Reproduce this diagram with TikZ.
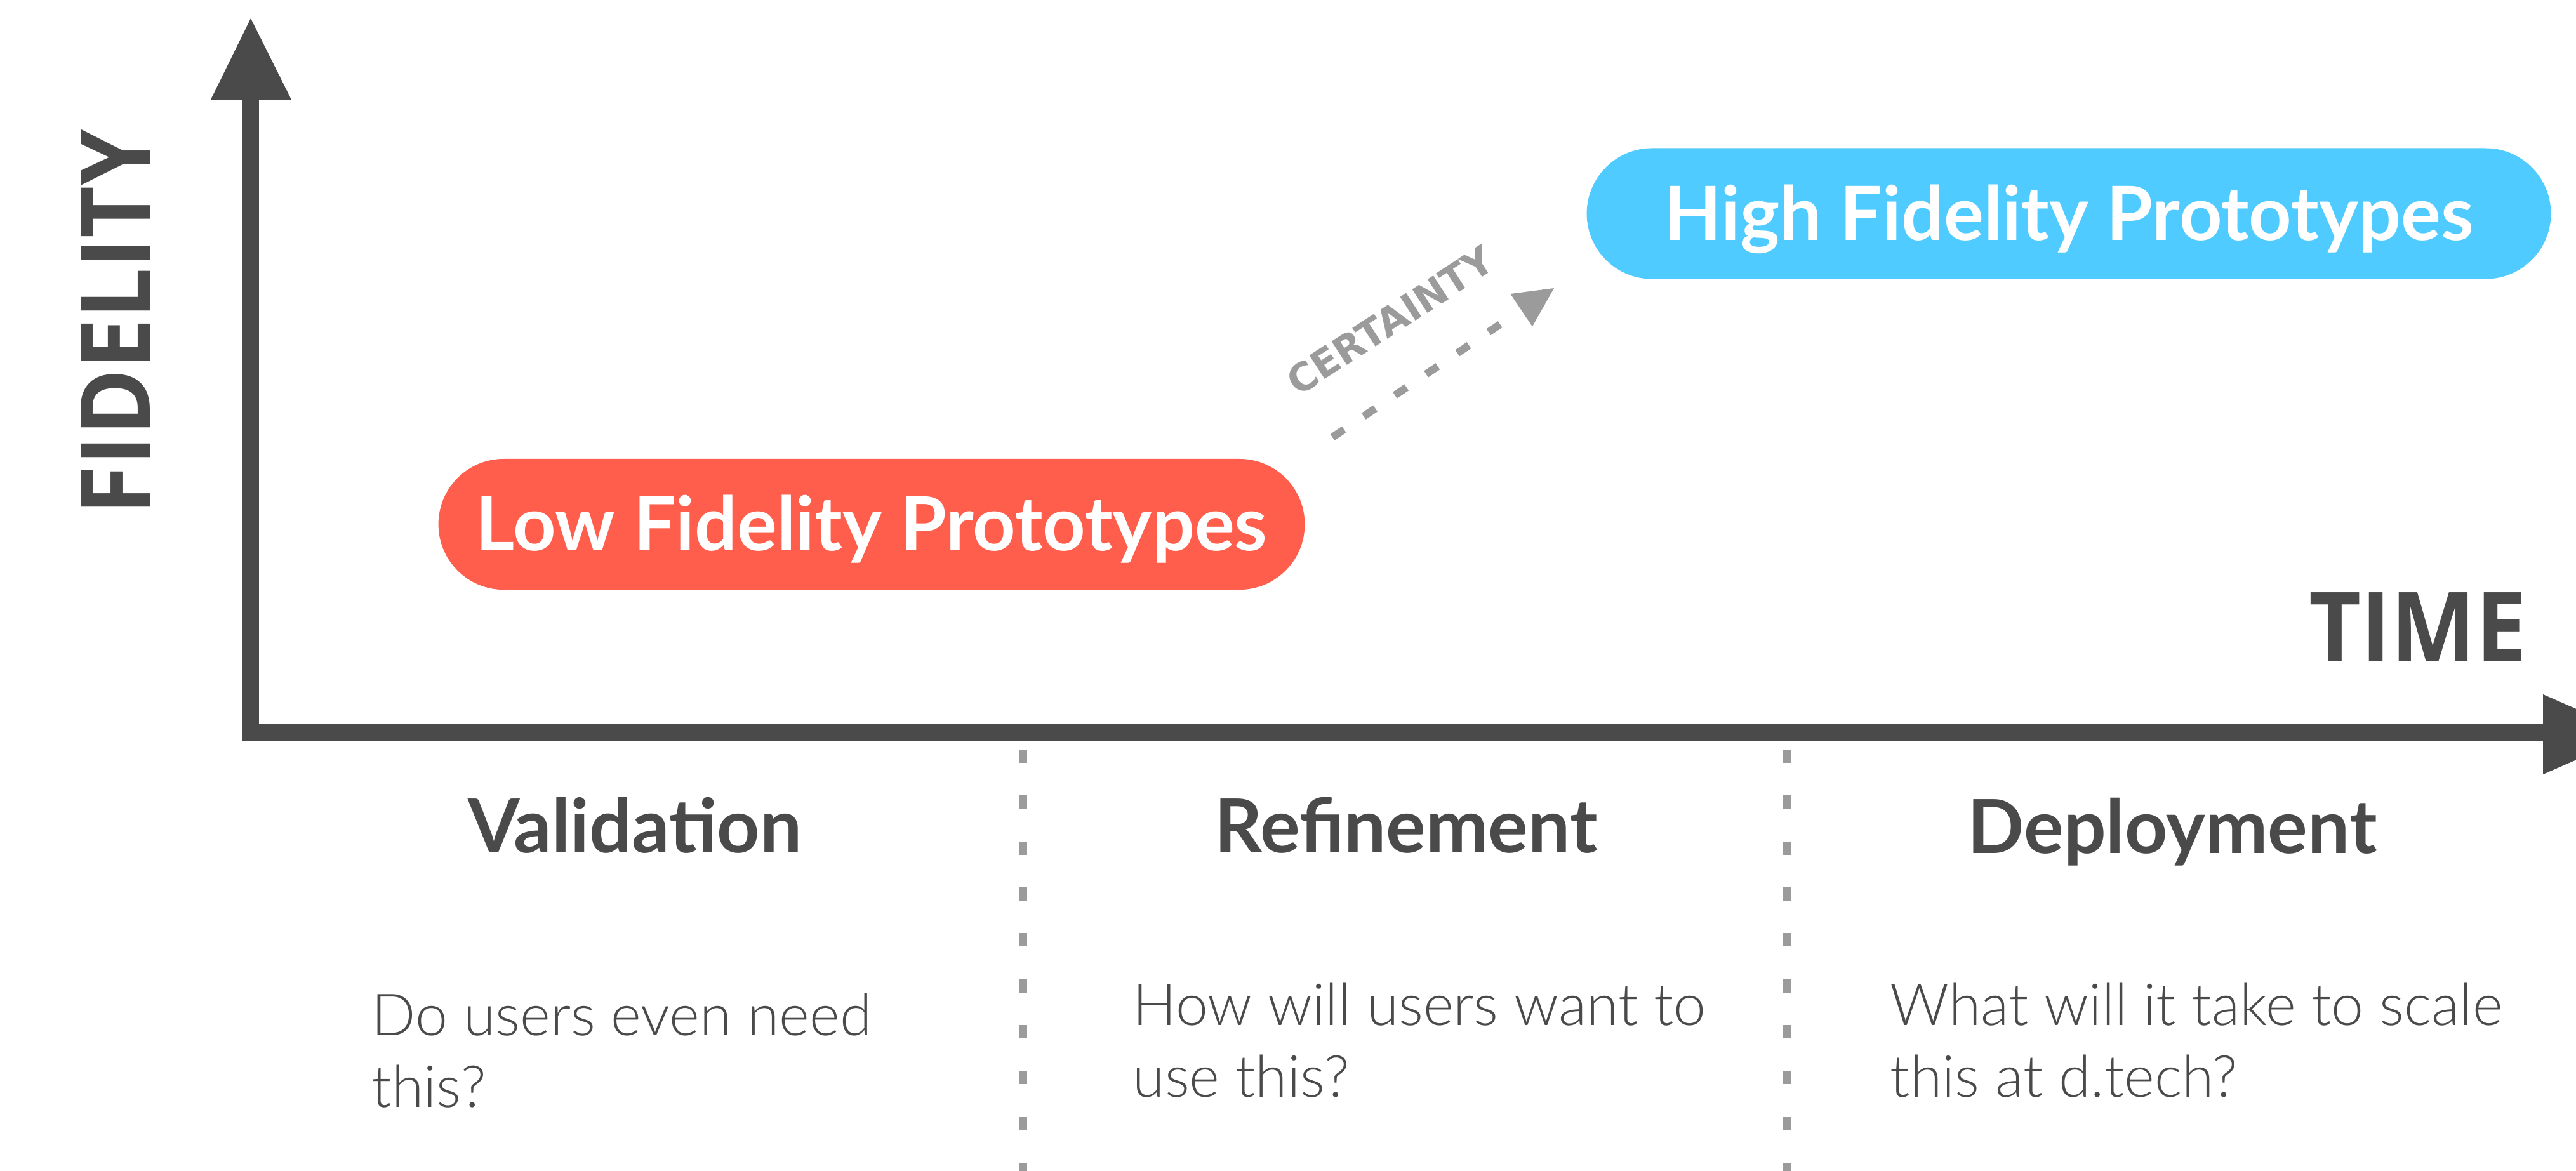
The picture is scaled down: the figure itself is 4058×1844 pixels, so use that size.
\documentclass[tikz,border=0pt]{standalone}
\usepackage{fontspec}
\setmainfont{Lato}
\newfontfamily\lightfont{Lato Light}
\newfontfamily\axisfont{Open Sans}[FakeStretch=0.93]
\newfontfamily\certfont{DejaVu Sans}
\definecolor{dark}{HTML}{4A4A4A}
\definecolor{midgray}{HTML}{9B9B9B}
\definecolor{pillred}{HTML}{FF5E4D}
\definecolor{pillblue}{HTML}{50CBFF}
\begin{document}
\begin{tikzpicture}[x=0.01cm, y=-0.01cm,
  pill/.style={rectangle, rounded corners=1.03cm, minimum height=2.06cm, inner sep=0pt,
    text height=0.83cm, text depth=0pt, text=white,
    font=\bfseries\fontsize{33.5pt}{40pt}\selectfont},
  heading/.style={anchor=base, inner sep=0pt, text=dark,
    font=\bfseries\fontsize{33.4pt}{40pt}\selectfont},
  body/.style={anchor=base west, inner sep=0pt, align=left, text=dark,
    font=\lightfont\fontsize{26pt}{31.87pt}\selectfont},
  axislabel/.style={inner sep=0pt, text=dark,
    font=\axisfont\bfseries\fontsize{43.4pt}{50pt}\selectfont},
  divider/.style={draw=midgray, line width=0.13cm, dash pattern=on 0.21cm off 0.513cm},
  axisline/.style={draw=dark, line width=0.26cm, line join=miter},
  certline/.style={draw=midgray, line width=0.12cm, dash pattern=on 0.22cm off 0.373cm},
  certlabel/.style={inner sep=0pt, text=midgray, text height=0.44cm, text depth=0pt,
    font=\certfont\bfseries\fontsize{17.3pt}{20pt}\selectfont},
]
\useasboundingbox (0,0) rectangle (4058,1844);
\clip (0,0) rectangle (4058,1844);

% axes
\coordinate (ytip) at (395,29);
\coordinate (origin) at (395,1154);
\coordinate (xend) at (4010,1154);
\coordinate (xtip) at (4150,1157);
\draw[axisline] (395,150) -- (origin) -- (xend);
\fill[dark] (332,157) -- (459,157) -- (ytip) -- cycle;
\fill[dark] (4006,1094) -- (4006,1220) -- (xtip) -- cycle;

% dividers
\draw[divider] (1611,1181) -- (1611,1850);
\draw[divider] (2815,1181) -- (2815,1850);

% pills
\node[pill, fill=pillred, minimum width=13.64cm] (low) at (1373,826) {Low Fidelity Prototypes};
\node[pill, fill=pillblue, minimum width=15.18cm] (high) at (3259,336.5) {High Fidelity Prototypes};

% certainty arrow
\coordinate (cs) at (2099,689);
\coordinate (ce) at (2363,511);
\draw[certline] (cs) -- (ce);
\fill[midgray] (2448,454) -- (2379.3,463) -- (2413.9,514.4) -- cycle;
\node[certlabel, rotate=33] (cert) at (2190,505) {CERTAINTY};

% axis labels
\node[axislabel, rotate=90, text height=1.09cm, text depth=0pt] (fid) at (181.5,508) {FIDELITY};
\node[axislabel, anchor=base] (time) at (3809,1042) {TIME};

% headings
\node[heading] (val) at (1000,1343) {Validation};
\node[heading] (ref) at (2215,1343) {Refinement};
\node[heading] (dep) at (3422,1344) {Deployment};

% questions (anchor at baseline of the last line)
\node[body] (valq) at (585,1744) {Do users even need\\this?};
\node[body] (refq) at (1784,1728) {How will users want to\\use this?};
\node[body] (depq) at (2977,1728) {What will it take to scale\\this at d.tech?};
\end{tikzpicture}
\end{document}
